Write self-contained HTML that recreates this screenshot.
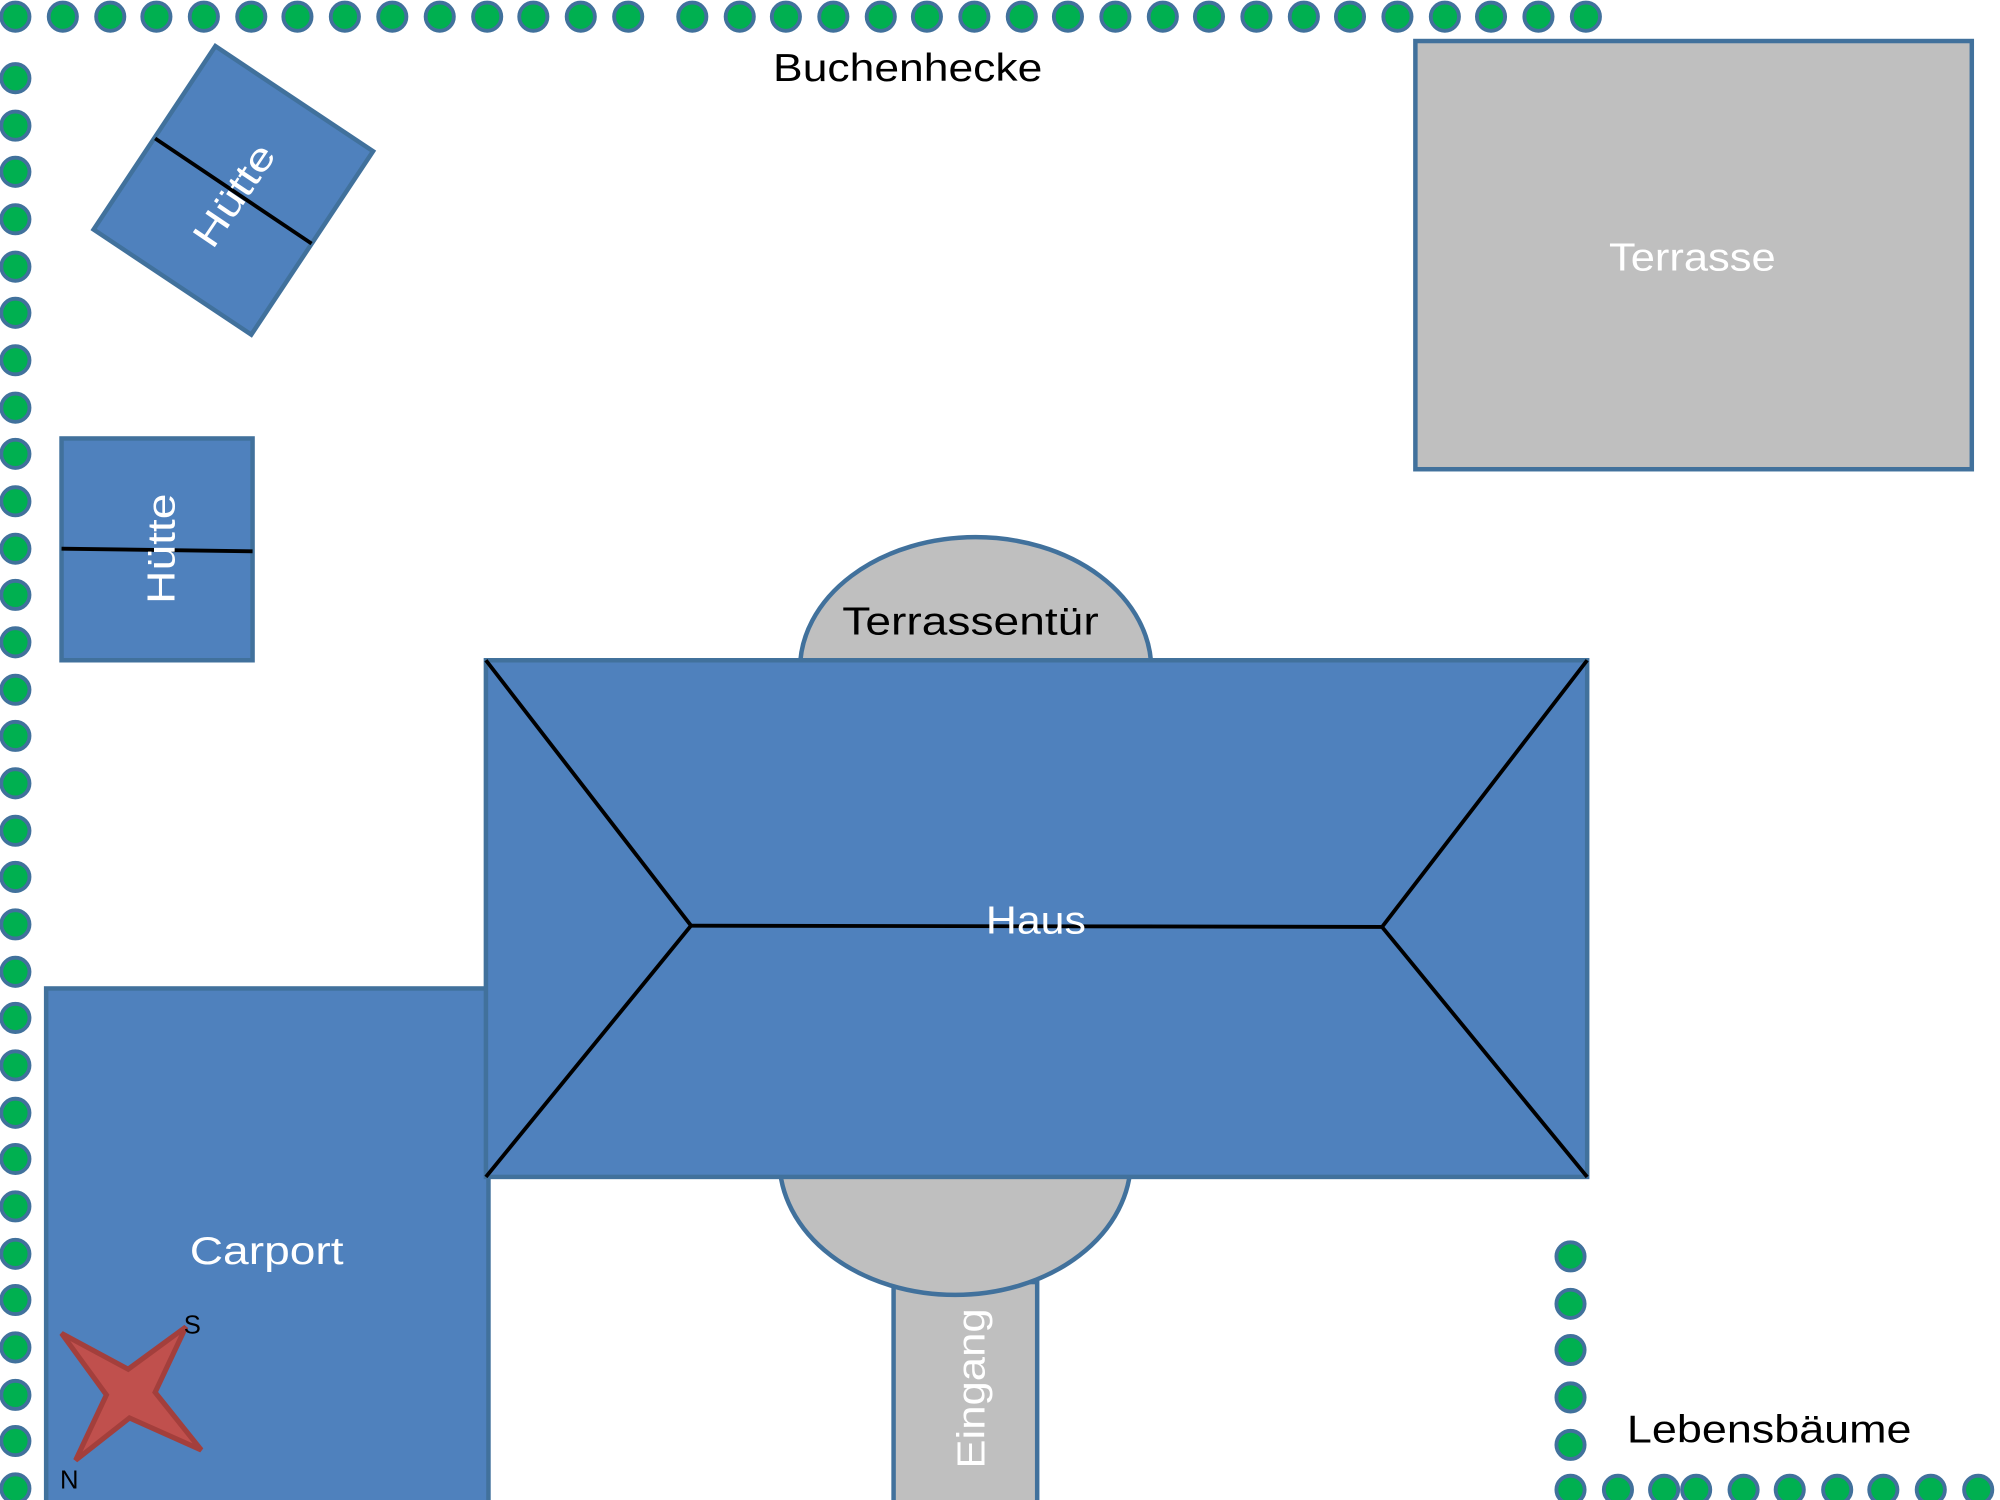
<!DOCTYPE html>
<html><head><meta charset="utf-8"><style>html,body{margin:0;padding:0;background:#fff}svg{display:block}</style></head>
<body>
<svg width="2000" height="1500" viewBox="0 0 1560 1170" preserveAspectRatio="none" xmlns="http://www.w3.org/2000/svg" font-family="Liberation Sans, sans-serif">
<g fill="#00b050" stroke="#41719c" stroke-width="3">
<circle cx="12" cy="13" r="11"/><circle cx="49" cy="13" r="11"/><circle cx="86" cy="13" r="11"/><circle cx="122" cy="13" r="11"/><circle cx="159" cy="13" r="11"/><circle cx="196" cy="13" r="11"/><circle cx="232" cy="13" r="11"/><circle cx="269" cy="13" r="11"/><circle cx="306" cy="13" r="11"/><circle cx="343" cy="13" r="11"/><circle cx="380" cy="13" r="11"/><circle cx="416" cy="13" r="11"/><circle cx="453" cy="13" r="11"/><circle cx="490" cy="13" r="11"/>
<circle cx="540" cy="13" r="11"/><circle cx="577" cy="13" r="11"/><circle cx="613" cy="13" r="11"/><circle cx="650" cy="13" r="11"/><circle cx="687" cy="13" r="11"/><circle cx="723" cy="13" r="11"/><circle cx="760" cy="13" r="11"/><circle cx="797" cy="13" r="11"/><circle cx="833" cy="13" r="11"/><circle cx="870" cy="13" r="11"/><circle cx="907" cy="13" r="11"/><circle cx="943" cy="13" r="11"/><circle cx="980" cy="13" r="11"/><circle cx="1017" cy="13" r="11"/><circle cx="1053" cy="13" r="11"/><circle cx="1090" cy="13" r="11"/><circle cx="1127" cy="13" r="11"/><circle cx="1163" cy="13" r="11"/><circle cx="1200" cy="13" r="11"/><circle cx="1237" cy="13" r="11"/>
<circle cx="12" cy="61" r="11"/><circle cx="12" cy="98" r="11"/><circle cx="12" cy="134" r="11"/><circle cx="12" cy="171" r="11"/><circle cx="12" cy="208" r="11"/><circle cx="12" cy="244" r="11"/><circle cx="12" cy="281" r="11"/><circle cx="12" cy="318" r="11"/><circle cx="12" cy="354" r="11"/><circle cx="12" cy="391" r="11"/><circle cx="12" cy="428" r="11"/><circle cx="12" cy="464" r="11"/><circle cx="12" cy="501" r="11"/><circle cx="12" cy="538" r="11"/><circle cx="12" cy="574" r="11"/><circle cx="12" cy="611" r="11"/><circle cx="12" cy="648" r="11"/><circle cx="12" cy="684" r="11"/><circle cx="12" cy="721" r="11"/><circle cx="12" cy="758" r="11"/><circle cx="12" cy="794" r="11"/><circle cx="12" cy="831" r="11"/><circle cx="12" cy="868" r="11"/><circle cx="12" cy="904" r="11"/><circle cx="12" cy="941" r="11"/><circle cx="12" cy="978" r="11"/><circle cx="12" cy="1014" r="11"/><circle cx="12" cy="1051" r="11"/><circle cx="12" cy="1088" r="11"/><circle cx="12" cy="1124" r="11"/><circle cx="12" cy="1161" r="11"/>
<circle cx="1225" cy="980" r="11"/><circle cx="1225" cy="1017" r="11"/><circle cx="1225" cy="1053" r="11"/><circle cx="1225" cy="1090" r="11"/><circle cx="1225" cy="1127" r="11"/>
<circle cx="1225" cy="1162" r="11"/><circle cx="1262" cy="1162" r="11"/><circle cx="1298" cy="1162" r="11"/><circle cx="1323" cy="1162" r="11"/><circle cx="1360" cy="1162" r="11"/><circle cx="1396" cy="1162" r="11"/><circle cx="1433" cy="1162" r="11"/><circle cx="1469" cy="1162" r="11"/><circle cx="1506" cy="1162" r="11"/><circle cx="1543" cy="1162" r="11"/>
</g>
<g stroke="#41719c" stroke-width="3.5">
<polygon points="168,36 291,118 196,261 73,179" fill="#4f81bd"/>
<rect x="48" y="342" width="149" height="173" fill="#4f81bd"/>
<rect x="1104" y="32" width="434" height="334" fill="#bfbfbf"/>
<ellipse cx="761" cy="522" rx="137" ry="103" fill="#bfbfbf"/>
<rect x="697" y="1000" width="112" height="178" fill="#bfbfbf"/>
<ellipse cx="745" cy="905" rx="137" ry="105" fill="#bfbfbf"/>
<rect x="36" y="771" width="345" height="410" fill="#4f81bd"/>
<rect x="379" y="515" width="859" height="403" fill="#4f81bd"/>
</g>
<g stroke="#000" stroke-width="3" fill="none">
<line x1="121" y1="108" x2="243" y2="190"/>
<line x1="48" y1="428" x2="197" y2="430"/>
<polyline points="379,515 539,722 379,918"/>
<line x1="539" y1="722" x2="1078" y2="723"/>
<polyline points="1238,515 1078,723 1238,918"/>
</g>
<polygon points="48,1040 100,1068 145,1035 121,1086 157,1131 101,1106 59,1139 83,1088" fill="#c0504d" stroke="#a33f3c" stroke-width="4"/>
<g font-size="30">
<text x="708" y="63" text-anchor="middle" textLength="210" lengthAdjust="spacingAndGlyphs">Buchenhecke</text>
<text x="1320" y="211" text-anchor="middle" fill="#fff" textLength="130" lengthAdjust="spacingAndGlyphs">Terrasse</text>
<text x="757" y="495" text-anchor="middle" textLength="200" lengthAdjust="spacingAndGlyphs">Terrassentür</text>
<text x="808" y="728" text-anchor="middle" fill="#fff" textLength="78" lengthAdjust="spacingAndGlyphs">Haus</text>
<text x="208" y="986" text-anchor="middle" fill="#fff" textLength="120" lengthAdjust="spacingAndGlyphs">Carport</text>
<text x="1380" y="1125" text-anchor="middle" textLength="222" lengthAdjust="spacingAndGlyphs">Lebensbäume</text>
<text transform="translate(768,1083) rotate(-90)" text-anchor="middle" fill="#fff" textLength="125" lengthAdjust="spacingAndGlyphs">Eingang</text>
<text transform="translate(136,428) rotate(-90)" text-anchor="middle" fill="#fff" textLength="86" lengthAdjust="spacingAndGlyphs">Hütte</text>
<text transform="translate(191,158) rotate(-56)" text-anchor="middle" fill="#fff" textLength="90" lengthAdjust="spacingAndGlyphs">Hütte</text>
</g>
<text x="150" y="1040" font-size="20" text-anchor="middle">S</text>
<text x="54" y="1161" font-size="20" text-anchor="middle">N</text>
</svg>
</body></html>
